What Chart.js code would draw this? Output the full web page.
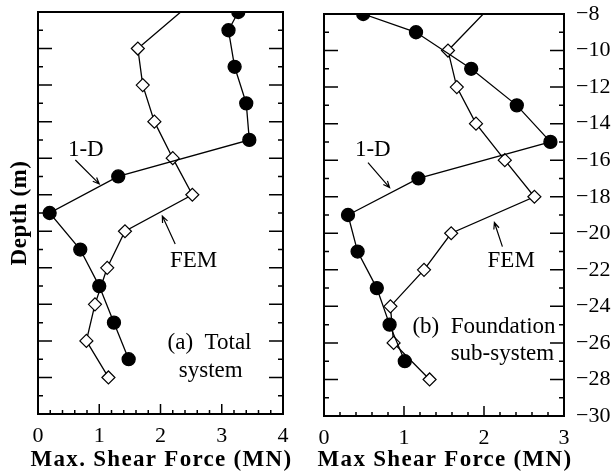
<!DOCTYPE html>
<html>
<head>
<title>Max. Shear Force vs Depth</title>
<script src="https://cdn.jsdelivr.net/npm/chart.js"></script>
<style>
  body { margin: 0; background: #fff; }
  #wrap { position: relative; width: 616px; height: 473px; }
  canvas { position: absolute; top: 0; }
  #leftChart { left: 0; }
  #rightChart { left: 300px; }
</style>
</head>
<body>
<div id="wrap">
  <canvas id="leftChart" width="300" height="473"></canvas>
  <canvas id="rightChart" width="316" height="473"></canvas>
</div>
<script>
// depths (m)
var depth1D = [-8, -9, -11, -13, -15, -17, -19, -21, -23, -25, -27];
var depthFEM = [-8, -10, -12, -14, -16, -18, -20, -22, -24, -26, -28];

// (a) total system, max shear force (MN)
var totalOneD = [3.27, 3.11, 3.21, 3.40, 3.45, 1.31, 0.19, 0.69, 1.00, 1.24, 1.48];
var totalFEM = [2.33, 1.63, 1.71, 1.90, 2.20, 2.52, 1.42, 1.13, 0.93, 0.79, 1.15];

// (b) foundation sub-system, max shear force (MN)
var foundOneD = [0.49, 1.15, 1.84, 2.41, 2.83, 1.18, 0.30, 0.42, 0.66, 0.82, 1.01];
var foundFEM = [1.99, 1.55, 1.66, 1.90, 2.26, 2.63, 1.59, 1.25, 0.83, 0.87, 1.32];

var serif = "'Liberation Serif', 'DejaVu Serif', serif";

function pts(xs, ys) {
    return ys.map(function(d, i) { return { x: xs[i], y: d }; });
}

function datasets(oneD, fem) {
    return [{
        label: '1-D',
        data: pts(oneD, depth1D),
        showLine: true,
        borderColor: '#000',
        borderWidth: 1.3,
        pointStyle: 'circle',
        pointRadius: 6.5,
        pointBackgroundColor: '#000',
        pointBorderColor: '#000',
        clip: 0
    }, {
        label: 'FEM',
        data: pts(fem, depthFEM),
        showLine: true,
        borderColor: '#000',
        borderWidth: 1.3,
        pointStyle: 'rectRot',
        // first point is where the line leaves the frame, no marker
        pointRadius: function(c) { return c.dataIndex === 0 ? 0 : 6.5; },
        pointBackgroundColor: '#fff',
        pointBorderColor: '#000',
        pointBorderWidth: 1.2,
        clip: 0
    }];
}

function arrow(ctx, x1, y1, x2, y2) {
    var a = Math.atan2(y2 - y1, x2 - x1), h = 7;
    ctx.beginPath();
    ctx.moveTo(x1, y1);
    ctx.lineTo(x2, y2);
    ctx.moveTo(x2 - h * Math.cos(a - 0.4), y2 - h * Math.sin(a - 0.4));
    ctx.lineTo(x2, y2);
    ctx.lineTo(x2 - h * Math.cos(a + 0.4), y2 - h * Math.sin(a + 0.4));
    ctx.stroke();
}

// frame, inward ticks, titles and labels
function decor(cfg) {
    return {
        id: 'decor',
        afterDatasetsDraw: function(chart) {
            var ctx = chart.ctx, a = chart.chartArea;
            var sx = chart.scales.x, sy = chart.scales.y;
            ctx.save();
            ctx.strokeStyle = '#000';
            ctx.fillStyle = '#000';
            ctx.lineWidth = 2;
            ctx.strokeRect(a.left, a.top, a.right - a.left, a.bottom - a.top);

            ctx.lineWidth = 1.5;
            ctx.beginPath();
            for (var i = 1; i < cfg.xMax * 5; i++) {
                var px = sx.getPixelForValue(i / 5);
                var len = (i % 5 === 0) ? 10 : 4;
                ctx.moveTo(px, a.bottom);
                ctx.lineTo(px, a.bottom - len);
            }
            for (var d = -29; d < -8; d++) {
                var py = sy.getPixelForValue(d);
                var l2 = (d % 2 === 0) ? 14 : 5;
                ctx.moveTo(a.left, py);
                ctx.lineTo(a.left + l2, py);
                ctx.moveTo(a.right, py);
                ctx.lineTo(a.right - l2, py);
            }
            ctx.stroke();

            // x title
            ctx.font = 'bold 23px ' + serif;
            ctx.letterSpacing = '1.3px';
            ctx.textAlign = 'center';
            ctx.textBaseline = 'alphabetic';
            ctx.fillText(cfg.xTitle, (a.left + a.right) / 2 + 1, 466);

            if (cfg.yTitle) {
                ctx.save();
                ctx.letterSpacing = '0.5px';
                ctx.translate(20, (a.top + a.bottom) / 2);
                ctx.rotate(-Math.PI / 2);
                ctx.textBaseline = 'middle';
                ctx.fillText(cfg.yTitle, 0, 0);
                ctx.restore();
            }

            ctx.letterSpacing = '0px';
            ctx.font = '23px ' + serif;
            ctx.textBaseline = 'middle';
            cfg.notes.forEach(function(n) {
                ctx.textAlign = n.align || 'center';
                ctx.fillText(n.text, sx.getPixelForValue(n.x), sy.getPixelForValue(n.y));
            });
            ctx.lineWidth = 1.2;
            cfg.arrows.forEach(function(r) {
                arrow(ctx, sx.getPixelForValue(r[0]), sy.getPixelForValue(r[1]),
                      sx.getPixelForValue(r[2]), sy.getPixelForValue(r[3]));
            });
            ctx.restore();
        }
    };
}

var tickFont = { family: serif, size: 22 };

new Chart(document.getElementById('leftChart').getContext('2d'), {
    type: 'scatter',
    data: { datasets: datasets(totalOneD, totalFEM) },
    options: {
        responsive: false,
        animation: false,
        events: [],
        layout: { padding: { left: 38, right: 17, top: 12, bottom: 0 } },
        plugins: { legend: { display: false }, tooltip: { enabled: false } },
        scales: {
            x: {
                type: 'linear', min: 0, max: 4,
                ticks: { stepSize: 1, font: tickFont, color: '#000', padding: 9 },
                grid: { display: false, drawTicks: false },
                border: { display: false },
                afterFit: function(s) { s.height = 59; }
            },
            y: { type: 'linear', min: -30, max: -8, display: false }
        }
    },
    plugins: [decor({
        xMax: 4,
        xTitle: 'Max. Shear Force (MN)',
        yTitle: 'Depth (m)',
        notes: [
            { text: '1-D', x: 0.78, y: -15.55 },
            { text: 'FEM', x: 2.54, y: -21.63 },
            { text: '(a)  Total', x: 2.80, y: -26.12 },
            { text: 'system', x: 2.82, y: -27.65 }
        ],
        arrows: [[0.61, -16.1, 1.0, -17.41], [2.24, -20.7, 2.03, -19.17]]
    })]
});

new Chart(document.getElementById('rightChart').getContext('2d'), {
    type: 'scatter',
    data: { datasets: datasets(foundOneD, foundFEM) },
    options: {
        responsive: false,
        animation: false,
        events: [],
        layout: { padding: { left: 24, right: 0, top: 14, bottom: 0 } },
        plugins: { legend: { display: false }, tooltip: { enabled: false } },
        scales: {
            x: {
                type: 'linear', min: 0, max: 3,
                ticks: { stepSize: 1, font: tickFont, color: '#000', padding: 9 },
                grid: { display: false, drawTicks: false },
                border: { display: false },
                afterFit: function(s) { s.height = 57; }
            },
            y: {
                type: 'linear', position: 'right', min: -30, max: -8,
                ticks: {
                    stepSize: 2, font: tickFont, color: '#000', padding: 12,
                    callback: function(v) { return (v < 0 ? '\u2212' : '') + Math.abs(v); }
                },
                grid: { display: false, drawTicks: false },
                border: { display: false },
                afterFit: function(s) { s.width = 52; s.paddingTop = 0; s.paddingBottom = 0; }
            }
        }
    },
    plugins: [decor({
        xMax: 3,
        xTitle: 'Max Shear Force (MN)',
        notes: [
            { text: '1-D', x: 0.61, y: -15.42 },
            { text: 'FEM', x: 2.34, y: -21.49 },
            { text: '(b)  Foundation', x: 2.0, y: -25.1 },
            { text: 'sub-system', x: 2.23, y: -26.63 }
        ],
        arrows: [[0.55, -16.13, 0.82, -17.5], [2.23, -20.73, 2.13, -19.41]]
    })]
});
</script>
</body>
</html>
